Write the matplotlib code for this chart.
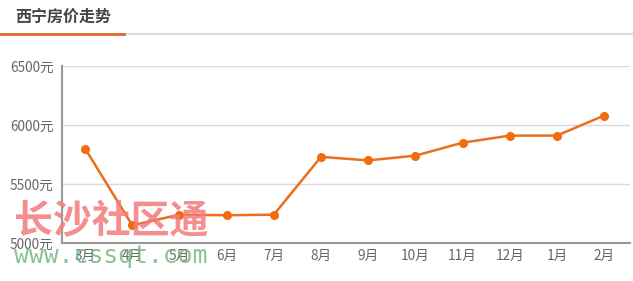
import matplotlib
matplotlib.use("Agg")
import matplotlib.pyplot as plt

plt.rcParams['font.family'] = ['Noto Sans CJK SC', 'DejaVu Sans']

# 数据
months = ["3月", "4月", "5月", "6月", "7月", "8月", "9月", "10月", "11月", "12月", "1月", "2月"]
prices = [5800, 5150, 5240, 5235, 5240, 5730, 5700, 5740, 5850, 5910, 5910, 6080]
y_ticks = [5000, 5500, 6000, 6500]
y_labels = [f"{v}元" for v in y_ticks]

fig = plt.figure(figsize=(6.33, 2.81), dpi=100)
fig.patch.set_facecolor("white")

# 标题 + 下划线
fig.text(15 / 633, 1 - 17 / 281, "西宁房价走势", fontsize=11.5, fontweight="bold",
         color="#444444", va="center", ha="left")
fig.add_artist(plt.Line2D([124 / 633, 1], [1 - 34 / 281] * 2, color="#dddddd", lw=1.5))
fig.add_artist(plt.Line2D([0, 124 / 633], [1 - 34 / 281] * 2, color="#e0662e", lw=2))

ax = fig.add_axes([62 / 633, 1 - 243 / 281, (630 - 62) / 633, (243 - 66) / 281])
x = list(range(len(months)))
ax.plot(x, prices, color="#e8701e", lw=1.8, marker="o", markersize=5.5,
        markerfacecolor="#f26b0f", markeredgecolor="#f26b0f", zorder=3)

ax.set_xlim(-0.49, 11.55)
ax.set_ylim(5000, 6500)
ax.set_yticks(y_ticks)
ax.set_yticklabels(y_labels)
ax.set_xticks(x)
ax.set_xticklabels(months)
ax.tick_params(axis="both", length=0, labelsize=9.8, labelcolor="#666666")
ax.tick_params(axis="y", pad=6)
ax.tick_params(axis="x", pad=4)
ax.grid(axis="y", color="#d9d9d9", lw=1)
ax.set_axisbelow(True)
for s in ["top", "right"]:
    ax.spines[s].set_visible(False)
for s in ["left", "bottom"]:
    ax.spines[s].set_color("#999999")
    ax.spines[s].set_linewidth(1.5)

# 水印
fig.text(14 / 633, 1 - 222 / 281, "长沙社区通", fontsize=28, fontweight="heavy",
         color="#f47c7c", alpha=0.85, va="center", ha="left")
fig.text(14 / 633, 1 - 256 / 281, "www.cssqt.com", fontsize=17.8, family="DejaVu Sans Mono",
         color="#6cb37c", alpha=0.8, va="center", ha="left")

fig.savefig("out.png", dpi=100)
